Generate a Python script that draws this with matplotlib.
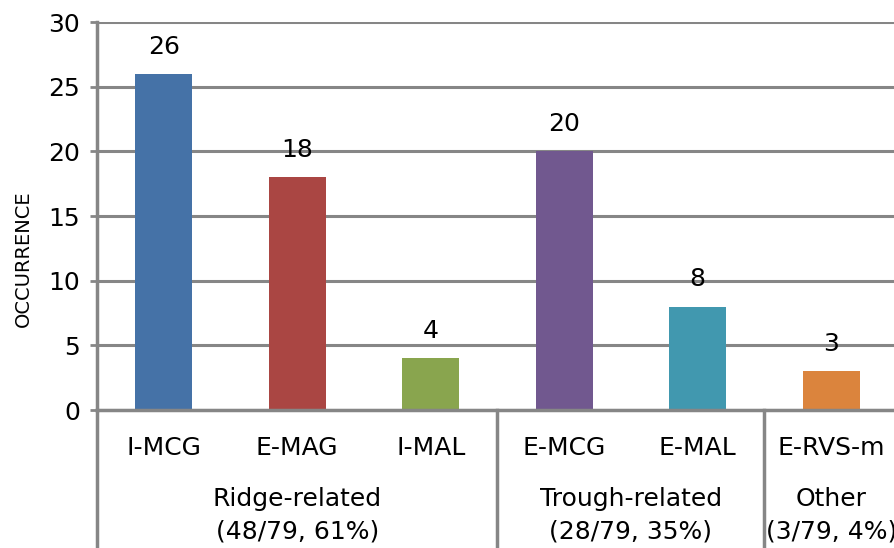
import matplotlib.pyplot as plt
import matplotlib.transforms as mtransforms
from matplotlib.lines import Line2D

# Occurrence counts per pattern
categories = ['I-MCG', 'E-MAG', 'I-MAL', 'E-MCG', 'E-MAL', 'E-RVS-m']
occurrence = [26, 18, 4, 20, 8, 3]
bar_colors = ['#4572A7', '#AA4643', '#89A54E', '#71588F', '#4198AF', '#DB843D']

# Pattern groups (consecutive categories)
group_names = ['Ridge-related', 'Trough-related', 'Other']
group_shares = ['(48/79, 61%)', '(28/79, 35%)', '(3/79, 4%)']
group_sizes = [3, 2, 1]

y_ticks = [0, 5, 10, 15, 20, 25, 30]

plt.rcParams['font.family'] = ['DejaVu Sans']
grey = '#868686'

fig = plt.figure(figsize=(8.95, 5.48), dpi=100)
ax = fig.add_axes([97 / 895, 138 / 548, 801 / 895, 388 / 548])

x = list(range(len(categories)))
ax.bar(x, occurrence, width=0.43, color=bar_colors, zorder=2)

for xi, v in zip(x, occurrence):
    ax.annotate(str(v), (xi, v), xytext=(0, 14.5), textcoords='offset points',
                ha='center', va='baseline', fontsize=18, zorder=4)

ax.set_xlim(-0.5, len(categories) - 0.5)
ax.set_ylim(0, 30)
ax.set_yticks(y_ticks)
ax.yaxis.grid(True, color=grey, linewidth=2.2)
ax.set_axisbelow(True)
ax.set_xticks([])
ax.tick_params(axis='y', direction='out', length=5, width=2, color=grey,
               pad=7, labelsize=18)

for side in ['top', 'right']:
    ax.spines[side].set_visible(False)
for side in ['left', 'bottom']:
    ax.spines[side].set_color(grey)
    ax.spines[side].set_linewidth(2.5)
    ax.spines[side].set_zorder(3)

ax.set_ylabel('OCCURRENCE', fontsize=14, labelpad=11.5, y=0.39)

# Category and group labels below the axis
trans = mtransforms.blended_transform_factory(ax.transData, ax.transAxes)
for xi, name in zip(x, categories):
    ax.text(xi, -0.116, name, transform=trans, ha='center', va='baseline',
            fontsize=18, clip_on=False)

# Vertical dividers: left axis extension and group separators
ax.add_line(Line2D([0, 0], [0, -0.45], transform=ax.transAxes, color=grey,
                   linewidth=2.5, clip_on=False))
start = 0
for i, (name, share, n) in enumerate(zip(group_names, group_shares, group_sizes)):
    center = start + (n - 1) / 2
    ax.text(center, -0.247, name, transform=trans, ha='center', va='baseline',
            fontsize=18, clip_on=False)
    ax.text(center, -0.332, share, transform=trans, ha='center', va='baseline',
            fontsize=18, clip_on=False)
    end = start + n - 0.5
    if i < len(group_sizes) - 1:
        ax.add_line(Line2D([end, end], [0, -0.45], transform=trans, color=grey,
                           linewidth=2.5, clip_on=False))
    start += n

fig.savefig('out.png', dpi=100)
